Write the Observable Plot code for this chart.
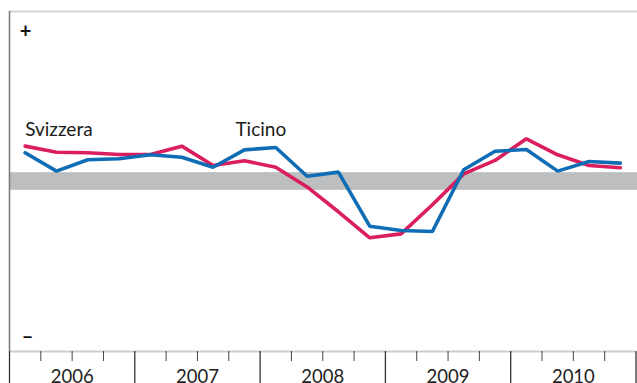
<!DOCTYPE html>
<html>
<head>
<meta charset="utf-8">
<script src="https://cdn.jsdelivr.net/npm/d3@7"></script>
<script src="https://cdn.jsdelivr.net/npm/@observablehq/plot@0.6"></script>
<style>
  html, body { margin: 0; padding: 0; background: #fff; }
  svg { display: block; }
</style>
</head>
<body>
<div id="chart"></div>
<script>
// Quarters (year, quarter)
const periods = [
  "2006-1","2006-2","2006-3","2006-4",
  "2007-1","2007-2","2007-3","2007-4",
  "2008-1","2008-2","2008-3","2008-4",
  "2009-1","2009-2","2009-3","2009-4",
  "2010-1","2010-2","2010-3","2010-4"
];
const svizzera = [2.08, 1.72, 1.69, 1.59, 1.59, 2.08, 0.94, 1.22, 0.84, -0.32,
                  -1.78, -3.31, -3.08, -1.37, 0.45, 1.24, 2.51, 1.57, 0.94, 0.81];
const ticino   = [1.69, 0.61, 1.28, 1.34, 1.57, 1.43, 0.84, 1.86, 2.00, 0.31,
                  0.55, -2.63, -2.88, -2.94, 0.69, 1.78, 1.88, 0.61, 1.18, 1.08];
const years = [2006, 2007, 2008, 2009, 2010];
const seriesNames = ["Svizzera", "Ticino"];
const signs = ["+", "–"];

const toX = p => { const [y, q] = p.split("-").map(Number); return y + (q - 0.5) / 4; };
const rows = [];
periods.forEach((p, i) => {
  rows.push({series: "Svizzera", x: toX(p), v: svizzera[i]});
  rows.push({series: "Ticino", x: toX(p), v: ticino[i]});
});
const yearBounds = [...years, years[years.length - 1] + 1];
const quarterBounds = [];
years.forEach(y => [0.25, 0.5, 0.75].forEach(f => quarterBounds.push(y + f)));
const yearMids = years.map(y => y + 0.5);

const colors = {Svizzera: "#db1f5e", Ticino: "#0f6db5"};
const labSv = [{text: seriesNames[0], x: toX(periods[0]), v: svizzera[0]}];
const labTi = [{text: seriesNames[1], x: toX(periods[7]), v: ticino[7]}];

const chart = Plot.plot({
  width: 637,
  height: 383,
  marginLeft: 9,
  marginRight: 1.5,
  marginTop: 11,
  marginBottom: 32,
  style: {fontFamily: "Lato, 'Open Sans', sans-serif", background: "#fff"},
  x: {domain: [2006, 2011], axis: null},
  y: {domain: [-10, 10], axis: null},
  marks: [
    Plot.rect([0], {x1: 2006, x2: 2011.02, y1: -0.52, y2: 0.52, fill: "#bdbec0"}),
    Plot.ruleY([10], {x1: 2006, x2: 2011.02, stroke: "#d4d4d4", strokeWidth: 2}),
    Plot.ruleY([-10], {x1: 2006, x2: 2011, stroke: "#cdcdcd", strokeWidth: 2}),
    Plot.ruleX([2006], {stroke: "#7d7d7d", strokeWidth: 1.6}),
    Plot.axisX(yearBounds, {label: null, tickSize: 33, tickFormat: () => "", stroke: "#333", strokeWidth: 1.3}),
    Plot.axisX(quarterBounds, {label: null, tickSize: 10, tickFormat: () => "", stroke: "#444", strokeWidth: 1}),
    Plot.axisX(yearMids, {label: null, tickSize: 0, tickPadding: 18, tickFormat: d => String(Math.floor(d)), fontSize: 18.5, fill: "#222"}),
    Plot.line(rows.filter(d => d.series === "Svizzera"), {x: "x", y: "v", stroke: colors.Svizzera, strokeWidth: 3.6, strokeLinejoin: "miter"}),
    Plot.line(rows.filter(d => d.series === "Ticino"), {x: "x", y: "v", stroke: colors.Ticino, strokeWidth: 3.6, strokeLinejoin: "miter"}),
    Plot.text(labSv, {x: "x", y: "v", text: "text", dx: 0, dy: -10, textAnchor: "start", lineAnchor: "bottom", fontSize: 19, fill: "#1a1a1a"}),
    Plot.text(labTi, {x: "x", y: "v", text: "text", dx: -9, dy: -14, textAnchor: "start", lineAnchor: "bottom", fontSize: 19, fill: "#1a1a1a"}),
    Plot.text([signs[0]], {frameAnchor: "top-left", dx: 16, dy: 20, text: d => d, textAnchor: "middle", lineAnchor: "middle", fontSize: 20, fontWeight: "bold", fill: "#111"}),
    Plot.text([signs[1]], {frameAnchor: "bottom-left", dx: 18, dy: -15, text: d => d, textAnchor: "middle", lineAnchor: "middle", fontSize: 20, fontWeight: "bold", fill: "#111"})
  ]
});
document.getElementById("chart").appendChild(chart);
</script>
</body>
</html>
